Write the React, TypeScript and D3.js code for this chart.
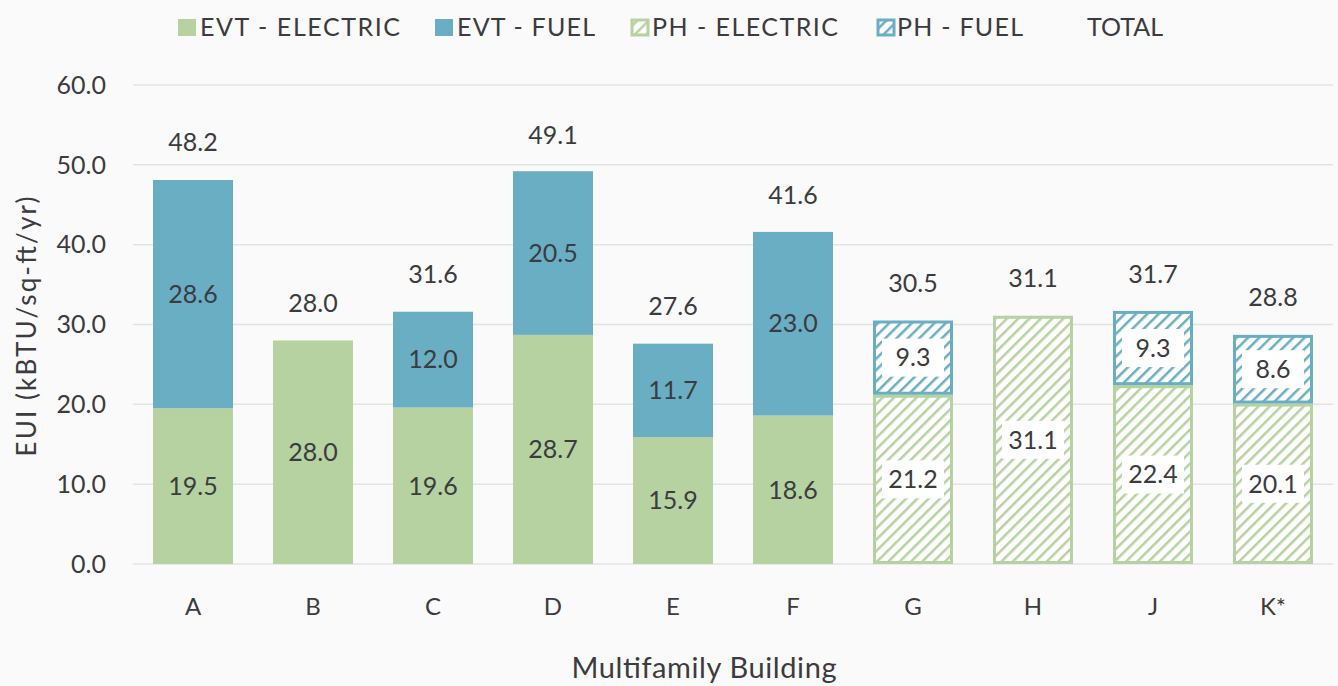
import { useEffect } from 'react';
import * as d3 from 'd3';

const buildings = ['A', 'B', 'C', 'D', 'E', 'F', 'G', 'H', 'J', 'K*'];
const evtElectric = [19.5, 28.0, 19.6, 28.7, 15.9, 18.6, 0, 0, 0, 0];
const evtFuel = [28.6, 0, 12.0, 20.5, 11.7, 23.0, 0, 0, 0, 0];
const phElectric = [0, 0, 0, 0, 0, 0, 21.2, 31.1, 22.4, 20.1];
const phFuel = [0, 0, 0, 0, 0, 0, 9.3, 0, 9.3, 8.6];
const totals = [48.2, 28.0, 31.6, 49.1, 27.6, 41.6, 30.5, 31.1, 31.7, 28.8];
const yTicks = [0, 10, 20, 30, 40, 50, 60];

// legend: marker x, text x and text width
const legendItems = [
  { label: 'EVT - ELECTRIC', kind: 'evtE', x: 178, tx: 200, tw: 200 },
  { label: 'EVT - FUEL', kind: 'evtF', x: 435, tx: 457, tw: 138 },
  { label: 'PH - ELECTRIC', kind: 'phE', x: 631, tx: 652, tw: 186 },
  { label: 'PH - FUEL', kind: 'phF', x: 877, tx: 897, tw: 126 },
  { label: 'TOTAL', kind: 'total', x: 1066, tx: 1087, tw: 76 },
];

const GREEN = '#b5d2a0';
const BLUE = '#6aaec4';
const TEXT = '#3b3b40';
const FONT = 'Lato, "Open Sans", sans-serif';

export default function App(): JSX.Element {
  useEffect(() => {
    document.body.style.margin = '0';
  }, []);

  const width = 1338;
  const height = 686;
  const margin = { top: 85, right: 5, bottom: 122, left: 133 };

  const x = d3.scaleBand<string>()
    .domain(buildings)
    .range([margin.left, width - margin.right])
    .paddingInner(1 / 3)
    .paddingOuter(1 / 6);

  const y = d3.scaleLinear()
    .domain([0, 60])
    .range([height - margin.bottom, margin.top]);

  const bw = x.bandwidth();

  const segments: {
    key: string; x: number; y0: number; y1: number; v: number; kind: string;
  }[] = [];
  buildings.forEach((b, i) => {
    const x0 = x(b) as number;
    if (evtElectric[i] > 0) segments.push({ key: b + 'ee', x: x0, y0: 0, y1: evtElectric[i], v: evtElectric[i], kind: 'evtE' });
    if (evtFuel[i] > 0) segments.push({ key: b + 'ef', x: x0, y0: evtElectric[i], y1: evtElectric[i] + evtFuel[i], v: evtFuel[i], kind: 'evtF' });
    if (phElectric[i] > 0) segments.push({ key: b + 'pe', x: x0, y0: 0, y1: phElectric[i], v: phElectric[i], kind: 'phE' });
    if (phFuel[i] > 0) segments.push({ key: b + 'pf', x: x0, y0: phElectric[i], y1: phElectric[i] + phFuel[i], v: phFuel[i], kind: 'phF' });
  });

  return (
    <div style={{ position: 'absolute', left: 0, top: 0 }}>
      <svg width={width} height={height} style={{ display: 'block', fontFamily: FONT }}>
        <defs>
          <pattern id="hatchG" patternUnits="userSpaceOnUse" width={8} height={8} patternTransform="rotate(45)">
            <rect width={8} height={8} fill="#ffffff" />
            <line x1={0} y1={0} x2={0} y2={8} stroke={GREEN} strokeWidth={5} />
          </pattern>
          <pattern id="hatchB" patternUnits="userSpaceOnUse" width={8} height={8} patternTransform="rotate(45)">
            <rect width={8} height={8} fill="#ffffff" />
            <line x1={0} y1={0} x2={0} y2={8} stroke={BLUE} strokeWidth={5} />
          </pattern>
        </defs>
        <rect width={width} height={height} fill="#fafafa" />

        {/* gridlines + y tick labels */}
        {yTicks.map(t => (
          <g key={t}>
            <line x1={margin.left} x2={width - 5} y1={y(t)} y2={y(t)} stroke="#e3e3e3" strokeWidth={1.5} />
            <text x={106} y={y(t)} dy="0.35em" textAnchor="end" fontSize={25} fill={TEXT}>
              {t.toFixed(1)}
            </text>
          </g>
        ))}

        {/* bars */}
        {segments.map(s => {
          const top = y(s.y1);
          const bot = y(s.y0);
          const h = bot - top;
          const cy = (top + bot) / 2;
          const hatched = s.kind === 'phE' || s.kind === 'phF';
          const col = s.kind === 'evtF' || s.kind === 'phF' ? BLUE : GREEN;
          return (
            <g key={s.key}>
              {hatched ? (
                <rect
                  x={s.x + 1.5}
                  y={top + 1.5}
                  width={bw - 3}
                  height={h - 3}
                  fill={s.kind === 'phF' ? 'url(#hatchB)' : 'url(#hatchG)'}
                  stroke={col}
                  strokeWidth={3}
                />
              ) : (
                <rect x={s.x} y={top} width={bw} height={h} fill={col} />
              )}
              {hatched && (
                <rect x={s.x + bw / 2 - 31} y={cy - 19} width={62} height={38} fill="#ffffff" />
              )}
              <text x={s.x + bw / 2} y={cy} dy="0.35em" textAnchor="middle" fontSize={25} fill={TEXT}>
                {s.v.toFixed(1)}
              </text>
            </g>
          );
        })}

        {/* totals */}
        {buildings.map((b, i) => (
          <text
            key={b}
            x={(x(b) as number) + bw / 2}
            y={y(totals[i]) - 37}
            dy="0.35em"
            textAnchor="middle"
            fontSize={25}
            fill={TEXT}
          >
            {totals[i].toFixed(1)}
          </text>
        ))}

        {/* category labels */}
        {buildings.map(b => (
          <text
            key={b}
            x={(x(b) as number) + bw / 2}
            y={607}
            dy="0.35em"
            textAnchor="middle"
            fontSize={24}
            fill={TEXT}
          >
            {b}
          </text>
        ))}

        {/* axis titles */}
        <text x={704} y={668} dy="0.35em" textAnchor="middle" fontSize={29} fill={TEXT}
          textLength={265} lengthAdjust="spacing">
          Multifamily Building
        </text>
        <text
          transform={`translate(27,${y(30) + 2}) rotate(-90)`}
          dy="0.35em"
          textAnchor="middle"
          fontSize={26}
          fill={TEXT}
          textLength={260}
          lengthAdjust="spacing"
        >
          EUI (kBTU/sq-ft/yr)
        </text>

        {/* legend */}
        {legendItems.map(it => (
          <g key={it.label}>
            {it.kind === 'evtE' && <rect x={it.x} y={19} width={18} height={17} fill={GREEN} />}
            {it.kind === 'evtF' && <rect x={it.x} y={19} width={18} height={17} fill={BLUE} />}
            {it.kind === 'phE' && (
              <rect x={it.x + 1} y={20} width={16} height={15} fill="url(#hatchG)" stroke={GREEN} strokeWidth={3} />
            )}
            {it.kind === 'phF' && (
              <rect x={it.x + 1} y={20} width={16} height={15} fill="url(#hatchB)" stroke={BLUE} strokeWidth={3} />
            )}
            <text x={it.tx} y={27} dy="0.35em" fontSize={25} fill={TEXT}
              textLength={it.tw} lengthAdjust="spacing">
              {it.label}
            </text>
          </g>
        ))}
      </svg>
    </div>
  );
}
